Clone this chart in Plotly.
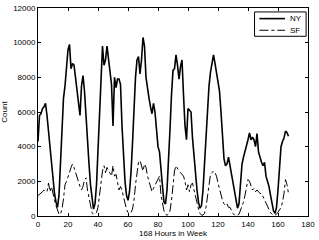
import plotly.graph_objects as go

hours = list(range(168))
ny = [4300, 5800, 5900, 6200, 6300, 6500, 5800, 4800, 3800, 2800,
      2000, 1300, 800, 500, 1200, 2800, 5000, 6800, 7500, 8800,
      9600, 9900, 8500, 8800, 8700, 8000, 7200, 6800, 5800, 7500,
      8100, 7200, 5600, 4200, 3000, 1800, 900, 400, 700, 1800,
      3800, 5800, 7500, 9800, 8700, 9000, 9800, 9000, 8400, 7600,
      5200, 8000, 7400, 7900, 7900, 7600, 5200, 3200, 2000, 1200,
      900, 1400, 2500, 4200, 6500, 8000, 9000, 9200, 8200, 9000,
      10300, 9800, 8000, 7200, 6800, 6300, 5900, 6500, 6000, 5000,
      4000, 3700, 2500, 1700, 800, 700, 1500, 3000, 5000, 7000,
      8400, 8500, 9300, 8700, 7900, 8600, 9000, 7000, 5200, 4400,
      6200, 6100, 6000, 4500, 3400, 2400, 1500, 800, 450, 600,
      1500, 3000, 4800, 6500, 7500, 8300, 8800, 9300, 8800, 8300,
      7700, 7200, 6000, 4500, 3300, 2900, 3000, 3400, 2900, 2200,
      1800, 1200, 900, 450, 700, 1800, 3000, 3400, 3700, 4000,
      4400, 4800, 4400, 4550, 4400, 4000, 4750, 3700, 3300, 3100,
      2900, 3100, 2300, 2000, 1700, 1200, 700, 300, 150, 500,
      1500, 3000, 4000, 4300, 4500, 4900, 4800, 4600]
sf = [1180, 1250, 1300, 1400, 1500, 1450, 1400, 1900, 1400, 1700,
      1200, 900, 600, 300, 100, 100, 400, 1000, 1800, 2000,
      2200, 2500, 2800, 3000, 2800, 2500, 2300, 2000, 1700, 1500,
      1700, 2100, 2200, 1500, 1000, 500, 200, 100, 100, 200,
      500, 1200, 2000, 2600, 2900, 2500, 2800, 2600, 2400, 2300,
      2900, 2300, 2400, 1800, 1500, 1700, 1500, 1100, 700, 400,
      200, 200, 200, 400, 900, 1800, 2600, 3100, 3200, 2900,
      2600, 3000, 2800, 2300, 2000, 1600, 1400, 1600, 1800, 2000,
      2100, 2300, 1200, 600, 300, 100, 50, 100, 300, 900,
      1800, 2600, 2900, 2700, 2600, 2500, 2400, 2300, 2000, 1500,
      1800, 1400, 1800, 1900, 1500, 1100, 700, 400, 150, 50,
      50, 150, 500, 1200, 2000, 2400, 2500, 2600, 2500, 2300,
      1900, 1500, 1200, 900, 700, 600, 700, 500, 500, 300,
      150, 50, 50, 50, 100, 300, 600, 800, 1200, 1800,
      2100, 2000, 1800, 1500, 1600, 1400, 1500, 1400, 1300, 1300,
      1100, 900, 700, 500, 300, 200, 100, 50, 50, 100,
      200, 350, 500, 800, 1300, 2100, 1800, 1300]

series_names = ["NY", "SF"]
x_ticks = [0, 20, 40, 60, 80, 100, 120, 140, 160, 180]
y_ticks = [0, 2000, 4000, 6000, 8000, 10000, 12000]

FONT = "Liberation Sans, Arial"
styles = {"NY": dict(color="black", width=1.6, dash="solid"),
          "SF": dict(color="black", width=1, dash="dashdot")}

fig = go.Figure()
fig.add_trace(go.Scatter(x=hours, y=ny, mode="lines", name="NY",
                         line=styles["NY"], showlegend=False))
fig.add_trace(go.Scatter(x=hours, y=sf, mode="lines", name="SF",
                         line=styles["SF"], showlegend=False))

axis_common = dict(showline=True, linecolor="black", linewidth=1, mirror="allticks",
                   ticks="inside", ticklen=3, tickcolor="black", showgrid=False,
                   zeroline=False, tickfont=dict(family=FONT, size=8, color="black"))

# Manual MATLAB-style legend box (paper coordinates)
shapes = [dict(type="rect", xref="paper", yref="paper", x0=0.802, x1=0.993, y0=0.864, y1=0.981,
               line=dict(color="black", width=1), fillcolor="white", layer="above")]
annotations = []
legend_rows = [0.949, 0.893]
for name, yy in zip(series_names, legend_rows):
    st = styles[name]
    shapes.append(dict(type="line", xref="paper", yref="paper", x0=0.82, x1=0.915, y0=yy, y1=yy,
                       line=dict(color=st["color"], width=st["width"], dash=st["dash"]), layer="above"))
    annotations.append(dict(xref="paper", yref="paper", x=0.925, y=yy, text=name, showarrow=False,
                            xanchor="left", yanchor="middle", font=dict(family=FONT, size=8, color="black")))

fig.update_layout(
    width=319, height=240,
    margin=dict(l=38, r=8, t=4, b=22),
    paper_bgcolor="white", plot_bgcolor="white",
    font=dict(family=FONT, size=8, color="black"),
    xaxis=dict(range=[0, 180], tickvals=x_ticks, ticktext=[str(v) for v in x_ticks],
               title=dict(text="168 Hours in Week", standoff=2, font=dict(size=8)), **axis_common),
    yaxis=dict(range=[0, 12000], tickvals=y_ticks, ticktext=[str(v) for v in y_ticks],
               title=dict(text="Count", standoff=4, font=dict(size=8)), **axis_common),
    shapes=shapes,
    annotations=annotations,
    showlegend=False,
)

fig.write_html("out.html")
